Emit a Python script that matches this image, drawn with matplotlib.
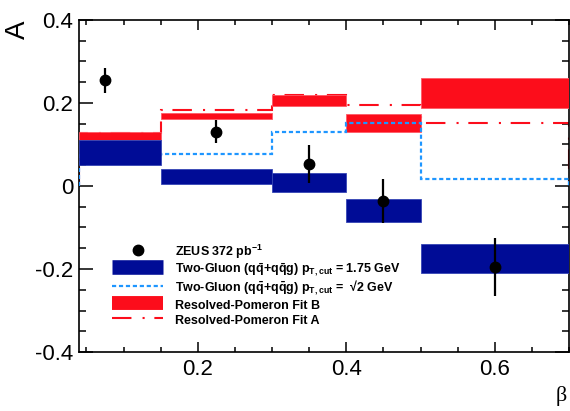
import numpy as np
import matplotlib
matplotlib.use('Agg')
import matplotlib.pyplot as plt
from matplotlib.lines import Line2D
from matplotlib.ticker import MultipleLocator

# beta bins and measured asymmetry
edges = [0.04, 0.15, 0.3, 0.4, 0.5, 0.7]
beta_pts = [0.075, 0.224, 0.35, 0.45, 0.60]
A_pts = [0.255, 0.131, 0.053, -0.036, -0.196]
A_err = [0.030, 0.028, 0.045, 0.053, 0.070]

# Two-gluon, pT,cut = 1.75 GeV (band low / high)
tg_lo = [0.051, 0.004, -0.015, -0.087, -0.209]
tg_hi = [0.111, 0.040, 0.032, -0.031, -0.140]
# Two-gluon, pT,cut = sqrt(2) GeV
tg_sqrt2 = [0.075, 0.077, 0.131, 0.153, 0.016]
# Resolved pomeron fit B (band) and fit A (line)
rpB_lo = [0.111, 0.161, 0.193, 0.131, 0.187]
rpB_hi = [0.131, 0.175, 0.219, 0.173, 0.260]
rpA = [0.127, 0.183, 0.219, 0.195, 0.151]

navy = '#000c96'
red = '#fc0d1b'
lblue = '#1e96ff'

plt.rcParams['font.family'] = ['Liberation Sans', 'DejaVu Sans']
plt.rcParams['mathtext.fontset'] = 'custom'
plt.rcParams['mathtext.rm'] = 'Liberation Sans'
plt.rcParams['mathtext.bf'] = 'Liberation Sans:bold'
plt.rcParams['lines.scale_dashes'] = False

fig = plt.figure(figsize=(5.7, 4.11), dpi=100)
ax = fig.add_axes([79/570, 1-352/411, 490/570, 332/411])

widths = np.diff(edges)
lefts = np.array(edges[:-1])

ax.stairs(rpA, edges, color=red, lw=1.5, ls=(0, (14, 8, 1.5, 7)), zorder=2)
ax.bar(lefts, np.array(rpB_hi) - np.array(rpB_lo), width=widths, bottom=rpB_lo,
       align='edge', color=red, edgecolor='#ff5a66', lw=0.6, zorder=3)
ax.stairs(tg_sqrt2, edges, color=lblue, lw=1.6, ls=(0, (3, 2)), zorder=4)
ax.bar(lefts, np.array(tg_hi) - np.array(tg_lo), width=widths, bottom=tg_lo,
       align='edge', color=navy, edgecolor='#3545b5', lw=0.6, zorder=5)
ax.errorbar(beta_pts, A_pts, yerr=A_err, fmt='o', color='k', ms=7.5,
            elinewidth=1.6, capsize=0, zorder=6)

ax.set_xlim(0.04, 0.7)
ax.set_ylim(-0.4, 0.4)
ax.xaxis.set_minor_locator(MultipleLocator(0.05))
ax.yaxis.set_minor_locator(MultipleLocator(0.05))
ax.set_xticks([0.2, 0.4, 0.6], ['0.2', '0.4', '0.6'])
ax.set_yticks([-0.4, -0.2, 0, 0.2, 0.4], ['-0.4', '-0.2', '0', '0.2', '0.4'])
ax.tick_params(which='both', direction='in', top=True, right=True, width=1.1,
               labelsize=16)
ax.tick_params(axis='x', which='major', length=7, pad=5)
ax.tick_params(axis='x', which='minor', length=3.6)
ax.tick_params(axis='y', which='major', length=10, pad=4)
ax.tick_params(axis='y', which='minor', length=5)
for s in ax.spines.values():
    s.set_linewidth(1.2)

fig.text(18/570, 1-30/411, 'A', rotation=90, ha='center', va='center', fontsize=20)
fig.text(567/570, 1-396/411, 'β', ha='right', va='center', fontsize=16,
         family='Liberation Serif')

handles = [
    Line2D([], [], marker='o', ls='none', color='k', ms=7.5),
    Line2D([], [], color=navy, lw=10.5, solid_capstyle='butt'),
    Line2D([], [], color=lblue, lw=1.6, ls=(0, (3, 2))),
    Line2D([], [], color=red, lw=10, solid_capstyle='butt'),
    Line2D([], [], color=red, lw=1.5, ls=(0, (14, 8, 1.5, 7))),
]
labels = [
    r'ZEUS 372 pb$^{\mathbf{-1}}$',
    r'Two-Gluon (q$\mathbf{\bar{q}}$+q$\mathbf{\bar{q}}$g) p$_{\mathbf{T,cut}}$ = 1.75 GeV',
    r'Two-Gluon (q$\mathbf{\bar{q}}$+q$\mathbf{\bar{q}}$g) p$_{\mathbf{T,cut}}$ =  √2 GeV',
    'Resolved-Pomeron Fit B',
    'Resolved-Pomeron Fit A',
]
leg = ax.legend(handles, labels, loc='lower left', bbox_to_anchor=(0.057, 0.058),
                prop={'weight': 'bold', 'size': 9}, frameon=True,
                facecolor='white', edgecolor='none', framealpha=1,
                handlelength=4.1, handleheight=1.5, handletextpad=0.95,
                labelspacing=0.0, borderpad=0.4, borderaxespad=0)
leg.set_zorder(7)

fig.savefig('out.png', dpi=100)
